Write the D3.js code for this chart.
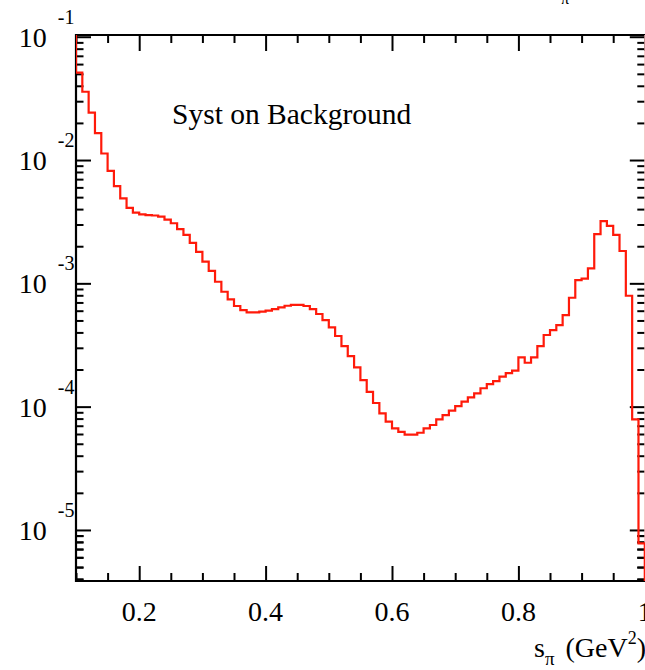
<!DOCTYPE html>
<html>
<head>
<meta charset="utf-8">
<script src="https://cdn.jsdelivr.net/npm/d3@7/dist/d3.min.js"></script>
<style>
  html, body { margin: 0; padding: 0; background: #fff; }
  svg { display: block; }
  text { font-family: "Liberation Serif", "Times New Roman", serif; fill: #000; }
</style>
</head>
<body>
<script>
// ---- data ----
const binLow = [0.10,0.11,0.12,0.13,0.14,0.15,0.16,0.17,0.18,0.19,
                0.20,0.21,0.22,0.23,0.24,0.25,0.26,0.27,0.28,0.29,
                0.30,0.31,0.32,0.33,0.34,0.35,0.36,0.37,0.38,0.39,
                0.40,0.41,0.42,0.43,0.44,0.45,0.46,0.47,0.48,0.49,
                0.50,0.51,0.52,0.53,0.54,0.55,0.56,0.57,0.58,0.59,
                0.60,0.61,0.62,0.63,0.64,0.65,0.66,0.67,0.68,0.69,
                0.70,0.71,0.72,0.73,0.74,0.75,0.76,0.77,0.78,0.79,
                0.80,0.81,0.82,0.83,0.84,0.85,0.86,0.87,0.88,0.89,
                0.90,0.91,0.92,0.93,0.94,0.95,0.96,0.97,0.98,0.99];
const binWidth = 0.01;
const systBkg = [5.11e-2,3.58e-2,2.42e-2,1.65e-2,1.13e-2,8.18e-3,6.15e-3,4.89e-3,4.10e-3,3.74e-3,
                 3.63e-3,3.58e-3,3.55e-3,3.48e-3,3.29e-3,3.07e-3,2.75e-3,2.47e-3,2.13e-3,1.80e-3,
                 1.50e-3,1.26e-3,1.03e-3,8.55e-4,7.41e-4,6.55e-4,6.07e-4,5.82e-4,5.82e-4,5.89e-4,
                 6.01e-4,6.19e-4,6.38e-4,6.58e-4,6.70e-4,6.70e-4,6.55e-4,6.19e-4,5.64e-4,5.04e-4,
                 4.40e-4,3.74e-4,3.10e-4,2.57e-4,2.08e-4,1.64e-4,1.32e-4,1.07e-4,8.83e-5,7.55e-5,
                 6.67e-5,6.25e-5,5.92e-5,5.92e-5,6.14e-5,6.67e-5,7.10e-5,7.89e-5,8.55e-5,9.27e-5,
                 1.01e-4,1.10e-4,1.19e-4,1.28e-4,1.41e-4,1.52e-4,1.61e-4,1.75e-4,1.87e-4,1.96e-4,
                 2.51e-4,2.27e-4,2.51e-4,3.10e-4,3.81e-4,4.18e-4,4.59e-4,5.53e-4,7.64e-4,1.06e-3,
                 1.09e-3,1.32e-3,2.51e-3,3.20e-3,2.92e-3,2.47e-3,1.83e-3,7.93e-4,7.89e-5,7.78e-6];
const xMajorTicks = [0.2, 0.4, 0.6, 0.8, 1.0];
const xTickLabels = ["0.2", "0.4", "0.6", "0.8", "1"];
const xMinorTicks = [0.1,0.15,0.25,0.3,0.35,0.45,0.5,0.55,0.65,0.7,0.75,0.85,0.9,0.95];
const yDecades = [1e-1, 1e-2, 1e-3, 1e-4, 1e-5];
const yDecadeExp = ["-1", "-2", "-3", "-4", "-5"];
const xDomain = [0.1, 1.0];
const yDomain = [Math.pow(10, -5.414), Math.pow(10, -0.986)];
const labelText = "Syst on Background";

// ---- layout ----
const W = 645, H = 670;
const L = 76, R = 644.8, T = 35, B = 581;

const svg = d3.select("body").append("svg").attr("width", W).attr("height", H);

const x = d3.scaleLinear().domain(xDomain).range([L, R]);
const y = d3.scaleLog().domain(yDomain).range([B, T]);

// minor y ticks
const yMinor = [];
yDecades.forEach(d => { for (let k = 2; k <= 9; k++) { const v = d * k / 10; if (v >= yDomain[0] && v <= yDomain[1]) yMinor.push(v); } });
for (let k = 2; k <= 9; k++) { const v = 1e-6 * k; if (v >= yDomain[0]) yMinor.push(v); }

// clip
svg.append("clipPath").attr("id", "clip").append("rect")
  .attr("x", L).attr("y", T).attr("width", R - L + 2).attr("height", B - T);

// histogram path (ROOT-style step outline)
const pts = [[binLow[0], yDomain[1] * 2]];
binLow.forEach((lo, i) => { pts.push([lo, systBkg[i]]); pts.push([lo + binWidth, systBkg[i]]); });
pts.push([binLow[binLow.length - 1] + binWidth, yDomain[0]]);
const line = d3.line().x(d => x(d[0])).y(d => y(d[1]));

function styleAxis(g) {
  g.select(".domain").remove();
  g.selectAll(".tick line").attr("stroke", "#000").attr("stroke-width", 2);
  g.selectAll(".tick text").remove();
}

// axes: ticks pointing inward
svg.append("g").attr("transform", `translate(${L},0)`)
  .call(d3.axisLeft(y).tickValues(yDecades).tickSize(-15)).call(styleAxis);
svg.append("g").attr("transform", `translate(${L},0)`)
  .call(d3.axisLeft(y).tickValues(yMinor).tickSize(-7.5)).call(styleAxis);
svg.append("g").attr("transform", `translate(${R},0)`)
  .call(d3.axisRight(y).tickValues(yDecades).tickSize(-15)).call(styleAxis);
svg.append("g").attr("transform", `translate(${R},0)`)
  .call(d3.axisRight(y).tickValues(yMinor).tickSize(-7.5)).call(styleAxis);
svg.append("g").attr("transform", `translate(0,${B})`)
  .call(d3.axisBottom(x).tickValues(xMajorTicks).tickSize(-15)).call(styleAxis);
svg.append("g").attr("transform", `translate(0,${B})`)
  .call(d3.axisBottom(x).tickValues(xMinorTicks).tickSize(-8)).call(styleAxis);
svg.append("g").attr("transform", `translate(0,${T})`)
  .call(d3.axisTop(x).tickValues(xMajorTicks).tickSize(-16)).call(styleAxis);
svg.append("g").attr("transform", `translate(0,${T})`)
  .call(d3.axisTop(x).tickValues(xMinorTicks).tickSize(-8)).call(styleAxis);

// frame
svg.append("line").attr("x1", L).attr("x2", L).attr("y1", T - 1).attr("y2", B + 1).attr("stroke", "#000").attr("stroke-width", 2.2);
svg.append("line").attr("x1", L - 1).attr("x2", R + 2).attr("y1", T).attr("y2", T).attr("stroke", "#000").attr("stroke-width", 2.2);
svg.append("line").attr("x1", L - 1).attr("x2", R + 2).attr("y1", B).attr("y2", B).attr("stroke", "#000").attr("stroke-width", 2.2);
svg.append("line").attr("x1", R).attr("x2", R).attr("y1", T).attr("y2", B).attr("stroke", "#f6b4b4").attr("stroke-width", 1);

// histogram
svg.append("path").attr("clip-path", "url(#clip)")
  .attr("d", line(pts)).attr("fill", "none")
  .attr("stroke", "#ff1a0a").attr("stroke-width", 2.2).attr("stroke-linejoin", "miter");

// y labels
yDecades.forEach((d, i) => {
  svg.append("text").attr("x", 46.7).attr("y", y(d) + 10).attr("text-anchor", "end")
    .attr("font-size", 28).text("10");
  svg.append("text").attr("x", 74.5).attr("y", y(d) - 13).attr("text-anchor", "end")
    .attr("font-size", 20).text(yDecadeExp[i]);
});

// x labels
xMajorTicks.forEach((v, i) => {
  svg.append("text").attr("x", x(v)).attr("y", 621).attr("text-anchor", "middle")
    .attr("font-size", 28).text(xTickLabels[i]);
});

// x axis title
const xt = svg.append("text").attr("x", 646).attr("y", 657).attr("text-anchor", "end").attr("font-size", 28);
xt.append("tspan").text("s");
xt.append("tspan").attr("dy", 8).attr("font-size", 19).text("π");
xt.append("tspan").attr("dy", -8).attr("dx", 4).text(" (GeV");
xt.append("tspan").attr("dy", -13).attr("font-size", 18).text("2");
xt.append("tspan").attr("dy", 13).text(")");

// partially visible title subscript at top
svg.append("text").attr("x", 565).attr("y", 4).attr("text-anchor", "middle").attr("font-size", 16).text("π");

// in-plot label
svg.append("text").attr("x", 172).attr("y", 123.5).attr("font-size", 29.5).text(labelText);
</script>
</body>
</html>
